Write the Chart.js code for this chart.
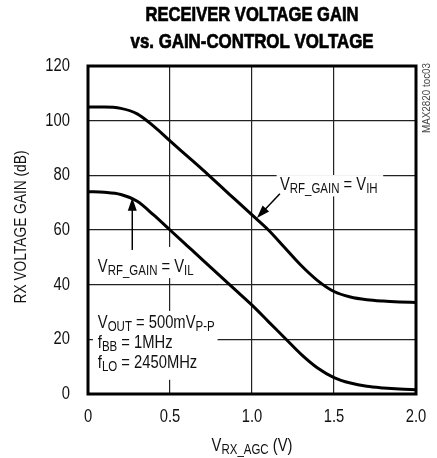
<!DOCTYPE html>
<html>
<head>
<meta charset="utf-8">
<script src="https://cdn.jsdelivr.net/npm/chart.js@4.4.1/dist/chart.umd.min.js"></script>
<style>
  html, body { margin: 0; padding: 0; background: #fff; }
  #wrap { position: relative; width: 437px; height: 458px; }
</style>
</head>
<body>
<div id="wrap"><canvas id="chart" width="437" height="458"></canvas></div>
<script>
// V_RX_AGC (V) en de twee curves (dB).
const vAgc    = [0, 0.1, 0.2, 0.3, 0.4, 0.5, 0.6, 0.7, 0.8, 0.9, 1.0, 1.1, 1.2, 1.3, 1.4, 1.5, 1.6, 1.7, 1.8, 1.9, 2.0];
const gainVih = [105, 105, 104.5, 102.5, 98, 92.6, 87.3, 82, 76.5, 71, 65.5, 60, 53.5, 47, 41.5, 37.5, 35.5, 34.5, 34, 33.7, 33.5];
const gainVil = [74, 73.8, 73, 70.5, 65.5, 60, 54.5, 49, 43.5, 38, 32.5, 26.5, 20.5, 14.5, 9.5, 6, 4, 2.8, 2.2, 1.8, 1.6];
const xTickLabels = ['0', '0.5', '1.0', '1.5', '2.0'];
const yTickLabels = ['0', '20', '40', '60', '80', '100', '120'];

const FONT = '"Liberation Sans", Arial, sans-serif';
const SX = 0.82; // geen smalle font beschikbaar → horizontaal samendrukken

// Tekst met subscript-delen: parts = [[tekst, isSub], ...]
function richWidth(ctx, parts, size) {
  let w = 0;
  for (const [t, sub] of parts) {
    ctx.font = (sub ? Math.round(size * 0.76) : size) + 'px ' + FONT;
    w += ctx.measureText(t).width;
  }
  return w * SX;
}
function drawRich(ctx, parts, x, y, size) {
  ctx.save();
  ctx.translate(x, y);
  ctx.scale(SX, 1);
  ctx.textAlign = 'left';
  ctx.textBaseline = 'alphabetic';
  let cx = 0;
  for (const [t, sub] of parts) {
    ctx.font = (sub ? Math.round(size * 0.76) : size) + 'px ' + FONT;
    ctx.fillText(t, cx, sub ? 3 : 0);
    cx += ctx.measureText(t).width;
  }
  ctx.restore();
}
function drawNarrow(ctx, text, x, y, font, align, baseline) {
  ctx.save();
  ctx.translate(x, y);
  ctx.scale(SX, 1);
  ctx.font = font;
  ctx.textAlign = align;
  ctx.textBaseline = baseline;
  ctx.fillText(text, 0, 0);
  ctx.restore();
}
function drawArrow(ctx, x1, y1, x2, y2) {
  const a = Math.atan2(y2 - y1, x2 - x1), len = 13, half = 4.5;
  ctx.beginPath();
  ctx.moveTo(x1, y1);
  ctx.lineTo(x2 - Math.cos(a) * len * 0.8, y2 - Math.sin(a) * len * 0.8);
  ctx.lineWidth = 1.5;
  ctx.strokeStyle = '#000';
  ctx.stroke();
  ctx.beginPath();
  ctx.moveTo(x2, y2);
  ctx.lineTo(x2 - Math.cos(a) * len + Math.sin(a) * half, y2 - Math.sin(a) * len - Math.cos(a) * half);
  ctx.lineTo(x2 - Math.cos(a) * len - Math.sin(a) * half, y2 - Math.sin(a) * len + Math.cos(a) * half);
  ctx.closePath();
  ctx.fillStyle = '#000';
  ctx.fill();
}

// Witte vlakken achter de labels (in data-eenheden), zodat het raster daar onderbroken is.
const labelBoxes = [
  [1.15, 1.80, 80.1, 72.3],
  [0.03, 0.64, 53.8, 42.4],
  [0.03, 0.79, 30.4, 5.2]
];

const annotatiePlugin = {
  id: 'annotaties',
  beforeDatasetsDraw(c) {
    const ctx = c.ctx, xs = c.scales.x, ys = c.scales.y;
    ctx.save();
    ctx.fillStyle = '#fff';
    for (const [x1, x2, y1, y2] of labelBoxes) {
      const px1 = xs.getPixelForValue(x1), px2 = xs.getPixelForValue(x2);
      const py1 = ys.getPixelForValue(y1), py2 = ys.getPixelForValue(y2);
      ctx.fillRect(px1, py1, px2 - px1, py2 - py1);
    }
    ctx.restore();
  },
  afterDatasetsDraw(c) {
    const ctx = c.ctx, xs = c.scales.x, ys = c.scales.y, a = c.chartArea;
    const X = v => xs.getPixelForValue(v), Y = v => ys.getPixelForValue(v);
    ctx.save();

    // Kader
    ctx.lineWidth = 3;
    ctx.strokeStyle = '#000';
    ctx.strokeRect(a.left, a.top, a.right - a.left, a.bottom - a.top);

    // Titel (iets aangedikt met een dunne rand)
    ctx.fillStyle = '#000';
    ctx.strokeStyle = '#000';
    ctx.lineWidth = 0.7;
    ctx.textAlign = 'center';
    ctx.textBaseline = 'middle';
    ctx.font = 'bold 20px ' + FONT;
    ctx.fillText('RECEIVER VOLTAGE GAIN', 252, 15, 213);
    ctx.strokeText('RECEIVER VOLTAGE GAIN', 252, 15, 213);
    ctx.fillText('vs. GAIN-CONTROL VOLTAGE', 252, 42, 243);
    ctx.strokeText('vs. GAIN-CONTROL VOLTAGE', 252, 42, 243);

    // Ticklabels via de schalen
    ctx.fillStyle = '#111';
    const tickFont = '18px ' + FONT;
    xs.ticks.forEach((t, i) => drawNarrow(ctx, xTickLabels[i], xs.getPixelForTick(i), a.bottom + 23, tickFont, 'center', 'middle'));
    ys.ticks.forEach((t, i) => drawNarrow(ctx, yTickLabels[i], a.left - 18, ys.getPixelForTick(i), tickFont, 'right', 'middle'));

    // Labels in de grafiek
    drawRich(ctx, [['V', false], ['RF_GAIN', true], [' = V', false], ['IH', true]], X(1.17), Y(74.6), 18);
    drawArrow(ctx, X(1.17), Y(73.3), X(1.03), Y(64.4));

    ctx.fillStyle = '#111';
    drawRich(ctx, [['V', false], ['RF_GAIN', true], [' = V', false], ['IL', true]], X(0.06), Y(44.6), 18);
    drawArrow(ctx, X(0.27), Y(52.7), X(0.27), Y(71.8));

    ctx.fillStyle = '#111';
    drawRich(ctx, [['V', false], ['OUT', true], [' = 500mV', false], ['P-P', true]], X(0.06), Y(24.1), 18);
    drawRich(ctx, [['f', false], ['BB', true], [' = 1MHz', false]], X(0.06), Y(16.8), 18);
    drawRich(ctx, [['f', false], ['LO', true], [' = 2450MHz', false]], X(0.06), Y(9.5), 18);

    // As-titels
    const xt = [['V', false], ['RX_AGC', true], [' (V)', false]];
    const w = richWidth(ctx, xt, 18);
    drawRich(ctx, xt, (a.left + a.right) / 2 - w / 2, 451, 18);

    ctx.save();
    ctx.translate(22, (a.top + a.bottom) / 2 - 3);
    ctx.rotate(-Math.PI / 2);
    ctx.textAlign = 'center';
    ctx.textBaseline = 'middle';
    ctx.font = '16px ' + FONT;
    ctx.fillText('RX VOLTAGE GAIN (dB)', 0, 0, 153);
    ctx.restore();

    ctx.save();
    ctx.translate(427, 98);
    ctx.rotate(-Math.PI / 2);
    ctx.textAlign = 'center';
    ctx.textBaseline = 'middle';
    ctx.font = '10px ' + FONT;
    ctx.fillStyle = '#444';
    ctx.fillText('MAX2820 toc03', 0, 0, 70);
    ctx.restore();

    ctx.restore();
  }
};

const curve = (ys) => ({
  data: vAgc.map((v, i) => ({ x: v, y: ys[i] })),
  borderColor: '#000', borderWidth: 3, pointRadius: 0,
  fill: false, cubicInterpolationMode: 'monotone'
});

new Chart(document.getElementById('chart'), {
  type: 'line',
  plugins: [annotatiePlugin],
  data: { datasets: [curve(gainVih), curve(gainVil)] },
  options: {
    responsive: false, animation: false, devicePixelRatio: 1,
    layout: { padding: { top: 66, right: 21, left: 0, bottom: 0 } },
    plugins: { legend: { display: false }, tooltip: { enabled: false } },
    scales: {
      x: {
        type: 'linear', min: 0, max: 2,
        afterFit(s) { s.height = 64; },
        ticks: { stepSize: 0.5, display: false },
        grid: { color: '#222', lineWidth: 1.2, drawTicks: false },
        border: { display: false }
      },
      y: {
        min: 0, max: 120,
        afterFit(s) { s.width = 88; },
        ticks: { stepSize: 20, display: false },
        grid: { color: '#222', lineWidth: 1.2, drawTicks: false },
        border: { display: false }
      }
    }
  }
});
</script>
</body>
</html>
